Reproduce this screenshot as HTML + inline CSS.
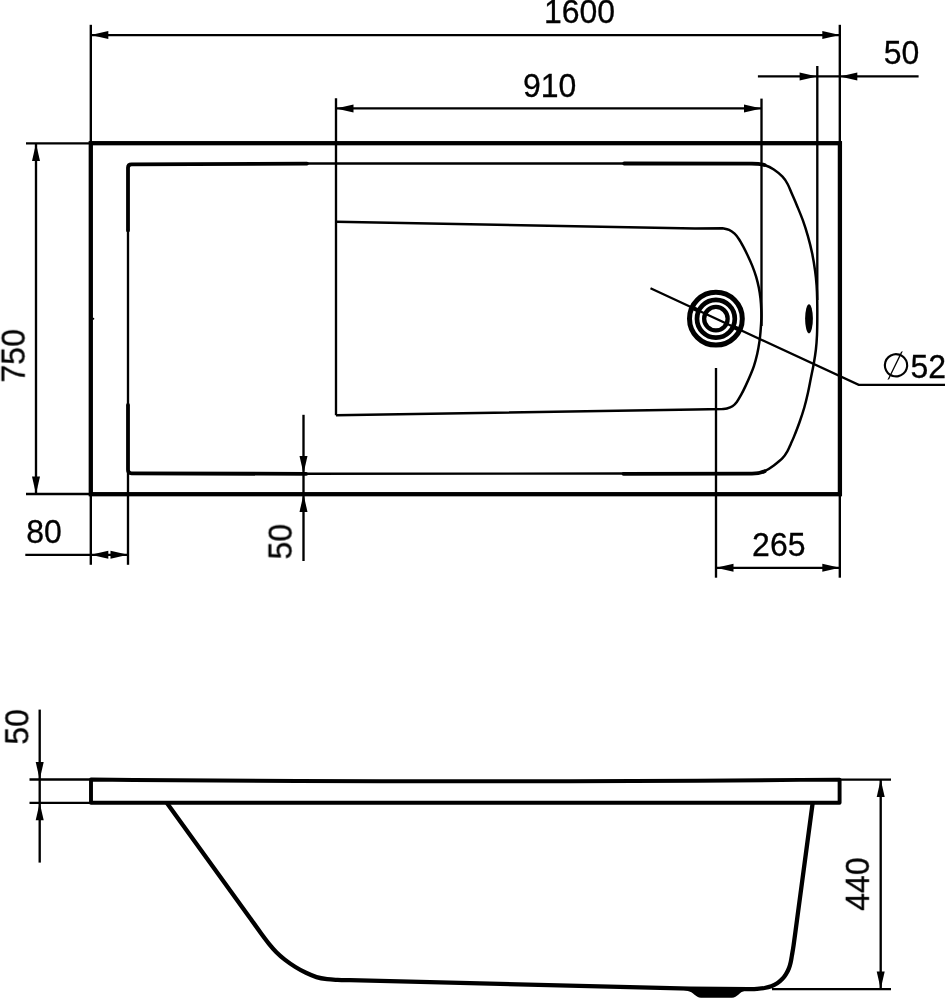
<!DOCTYPE html>
<html lang="en">
<head>
<meta charset="utf-8">
<title>Bathtub 1600 x 750 technical drawing</title>
<style>
html,body{margin:0;padding:0;background:#fff;}
body{width:947px;height:1000px;overflow:hidden;}
svg{display:block;}
</style>
</head>
<body>
<svg width="947" height="1000" viewBox="0 0 947 1000">
<rect width="947" height="1000" fill="#fff"/>
<g fill="none" stroke="#000" stroke-width="2.35" stroke-linecap="butt">
<line x1="90.80" y1="24.80" x2="90.80" y2="143.00"/>
<line x1="839.80" y1="24.80" x2="839.80" y2="143.00"/>
<line x1="90.80" y1="35.10" x2="839.80" y2="35.10"/>
<line x1="336.00" y1="98.30" x2="336.00" y2="415.20"/>
<line x1="761.50" y1="98.60" x2="761.50" y2="326.00"/>
<line x1="336.00" y1="108.40" x2="761.50" y2="108.40"/>
<line x1="817.30" y1="66.00" x2="817.30" y2="300.00"/>
<line x1="757.90" y1="76.40" x2="918.60" y2="76.40"/>
<line x1="26.00" y1="143.40" x2="90.00" y2="143.40"/>
<line x1="26.00" y1="494.00" x2="90.00" y2="494.00"/>
<line x1="36.00" y1="143.40" x2="36.00" y2="494.00"/>
<line x1="90.80" y1="494.00" x2="90.80" y2="564.80"/>
<line x1="128.00" y1="470.00" x2="128.00" y2="564.80"/>
<line x1="25.30" y1="554.80" x2="128.00" y2="554.80"/>
<line x1="303.50" y1="414.80" x2="303.50" y2="561.00"/>
<line x1="716.00" y1="368.00" x2="716.00" y2="577.70"/>
<line x1="839.80" y1="494.00" x2="839.80" y2="577.70"/>
<line x1="716.00" y1="567.80" x2="839.80" y2="567.80"/>
<line x1="39.70" y1="709.60" x2="39.70" y2="862.60"/>
<line x1="29.50" y1="779.50" x2="90.00" y2="779.50"/>
<line x1="29.50" y1="802.80" x2="90.00" y2="802.80"/>
<line x1="880.70" y1="779.60" x2="880.70" y2="989.10"/>
<line x1="840.00" y1="779.60" x2="891.00" y2="779.60"/>
<line x1="772.00" y1="989.10" x2="891.00" y2="989.10"/>
<line x1="128.00" y1="229.00" x2="128.00" y2="406.00"/>
<line x1="305.00" y1="473.70" x2="625.00" y2="473.50"/>
<line x1="306.00" y1="163.50" x2="625.00" y2="163.50"/>
<path stroke-width="2.5" d="M 748.00,473.60 C 749.50,473.53 754.15,473.65 757.00,473.20 C 759.85,472.75 762.30,472.20 765.10,470.90 C 767.90,469.60 770.90,467.52 773.80,465.40 C 776.70,463.28 780.20,460.62 782.50,458.20 C 784.80,455.78 786.20,453.32 787.60,450.90 C 789.00,448.48 789.82,446.12 790.90,443.70 C 791.98,441.28 792.65,440.02 794.10,436.40 C 795.55,432.78 797.90,426.82 799.60,422.00 C 801.30,417.18 802.92,412.33 804.30,407.50 C 805.68,402.67 806.82,397.83 807.90,393.00 C 808.98,388.17 809.83,383.33 810.80,378.50 C 811.77,373.67 812.85,368.83 813.70,364.00 C 814.55,359.17 815.35,354.33 815.90,349.50 C 816.45,344.67 816.77,340.17 817.00,335.00 C 817.23,329.83 817.27,324.33 817.30,318.50 C 817.33,312.67 817.32,305.52 817.20,300.00 C 817.08,294.48 816.95,290.25 816.60,285.40 C 816.25,280.55 815.83,276.20 815.10,270.90 C 814.37,265.60 813.40,259.38 812.20,253.60 C 811.00,247.82 809.47,241.77 807.90,236.20 C 806.33,230.63 804.62,225.28 802.80,220.20 C 800.98,215.12 798.80,210.05 797.00,205.70 C 795.20,201.35 793.57,197.72 792.00,194.10 C 790.43,190.48 789.18,186.90 787.60,184.00 C 786.02,181.10 784.80,179.12 782.50,176.70 C 780.20,174.28 776.70,171.42 773.80,169.50 C 770.90,167.58 767.90,166.13 765.10,165.20 C 762.30,164.27 759.85,164.15 757.00,163.90 C 754.15,163.65 749.50,163.73 748.00,163.70"/>
<path stroke-width="2.5" d="M 336,221.7 L 695,228.6 L 722.5,228.2 C 723.60,228.47 727.08,228.93 729.10,229.85 C 731.12,230.77 732.95,232.14 734.60,233.70 C 736.25,235.26 737.53,237.00 739.00,239.20 C 740.47,241.40 741.93,244.15 743.40,246.90 C 744.87,249.65 746.33,252.58 747.80,255.70 C 749.27,258.82 750.82,262.12 752.20,265.60 C 753.58,269.08 755.00,272.93 756.10,276.60 C 757.20,280.27 758.07,283.93 758.80,287.60 C 759.53,291.27 760.08,294.87 760.50,298.60 C 760.92,302.33 761.15,306.77 761.30,310.00 C 761.45,313.23 761.53,314.33 761.40,318.00 C 761.27,321.67 760.83,328.02 760.50,332.00 C 760.17,335.98 759.95,338.23 759.40,341.90 C 758.85,345.57 758.12,349.97 757.20,354.00 C 756.28,358.03 755.10,362.43 753.90,366.10 C 752.70,369.77 751.38,372.70 750.00,376.00 C 748.62,379.30 747.07,382.78 745.60,385.90 C 744.13,389.02 742.67,392.03 741.20,394.70 C 739.73,397.37 738.27,399.97 736.80,401.90 C 735.33,403.83 734.05,405.20 732.40,406.30 C 730.75,407.40 728.55,408.05 726.90,408.50 C 725.25,408.95 723.23,408.92 722.50,409.00 L 695,409.5 L 336,415.2"/>
</g>
<g fill="none" stroke="#000" stroke-width="3.8" stroke-linejoin="miter" stroke-linecap="round">
<rect x="90.8" y="143.2" width="749.1" height="351" stroke-width="4.3"/>
<path d="M 307,163.6 L 131.5,164.3 Q 128,164.3 128,167.8 L 128,230.5"/>
<path d="M 128,405 L 128,469.8 Q 128,473.3 131.5,473.3 L 306,473.9"/>
<path d="M 623.5,473.8 L 752,473.6 Q 759.5,473.5 764.6,471.2"/>
<path d="M 624.2,163.5 L 752,163.7 Q 759.5,163.8 764.6,165.0"/>
</g>
<g fill="none" stroke="#000">
<circle cx="715.9" cy="318.7" r="26.4" stroke-width="5"/>
<circle cx="715.9" cy="318.7" r="18.9" stroke-width="4.7"/>
<circle cx="715.9" cy="318.7" r="11.75" stroke-width="4.3"/>
<path d="M 690.5,306.9 L 699.6,311.1 M 732.2,326.3 L 741.3,330.5" stroke-width="4.2"/>
<path d="M 650.5,288.3 L 858.7,384.9 L 945,384.9" stroke-width="2.3"/>
</g>
<ellipse cx="809" cy="318.8" rx="3.9" ry="14.6" fill="#000"/>
<circle cx="93.3" cy="318.8" r="1" fill="#000"/>
<g fill="#000" stroke="none">
<polygon points="90.80,35.10 108.30,31.10 108.30,39.10"/>
<polygon points="839.80,35.10 822.30,31.10 822.30,39.10"/>
<polygon points="336.00,108.40 353.50,104.40 353.50,112.40"/>
<polygon points="761.50,108.40 744.00,104.40 744.00,112.40"/>
<polygon points="817.10,76.40 799.60,72.40 799.60,80.40"/>
<polygon points="839.80,76.40 857.30,72.40 857.30,80.40"/>
<polygon points="36.00,143.40 32.00,160.90 40.00,160.90"/>
<polygon points="36.00,494.00 32.00,476.50 40.00,476.50"/>
<polygon points="90.80,554.80 108.30,550.80 108.30,558.80"/>
<polygon points="128.00,554.80 110.50,550.80 110.50,558.80"/>
<polygon points="303.50,473.50 299.50,456.00 307.50,456.00"/>
<polygon points="303.50,494.40 299.50,511.90 307.50,511.90"/>
<polygon points="716.00,567.80 733.50,563.80 733.50,571.80"/>
<polygon points="839.80,567.80 822.30,563.80 822.30,571.80"/>
<polygon points="39.70,779.50 35.70,762.00 43.70,762.00"/>
<polygon points="39.70,802.80 35.70,820.30 43.70,820.30"/>
<polygon points="880.70,779.60 876.70,797.10 884.70,797.10"/>
<polygon points="880.70,989.10 876.70,971.60 884.70,971.60"/>
</g>
<g fill="none" stroke="#000" stroke-width="3.9" stroke-linejoin="round">
<path d="M 91,802.8 L 91,779.5 Q 300,781.5 465,781.2 Q 640,781.3 839.6,779.6 L 839.6,802.8 Z"/>
</g>
<g fill="none" stroke="#000" stroke-width="4.3" stroke-linejoin="round">
<path d="M 166.90,803.00 L 250,917.9 C 251.77,920.37 257.43,928.38 260.60,932.70 C 263.77,937.02 266.37,940.55 269.00,943.80 C 271.63,947.05 273.77,949.57 276.40,952.20 C 279.03,954.83 281.63,957.13 284.80,959.60 C 287.97,962.07 291.87,964.80 295.40,967.00 C 298.93,969.20 302.48,971.12 306.00,972.80 C 309.52,974.48 312.98,976.03 316.50,977.10 C 320.02,978.17 323.58,978.73 327.10,979.20 C 330.62,979.67 333.78,979.73 337.60,979.90 C 341.42,980.07 347.93,980.15 350.00,980.20 L 660,987.8 L 690,988.7 L 748.4,989.2 C 749.82,989.13 754.22,989.00 756.90,988.80 C 759.58,988.60 762.10,988.42 764.50,988.00 C 766.90,987.58 769.18,987.08 771.30,986.30 C 773.42,985.52 775.38,984.50 777.20,983.30 C 779.02,982.10 780.73,980.63 782.20,979.10 C 783.67,977.57 784.87,975.93 786.00,974.10 C 787.13,972.27 788.22,970.08 789.00,968.10 C 789.78,966.12 790.22,964.30 790.70,962.20 C 791.18,960.10 791.42,958.32 791.90,955.50 C 792.38,952.68 792.75,951.22 793.60,945.30 C 794.45,939.38 796.43,924.22 797.00,920.00 L 812.6,803.4"/>
</g>
<path d="M 682,989.5 L 687,990.8 C 694,992 695.5,997.8 701,997.8 L 732,997.8 C 737.5,997.8 739,992 745,990.8 L 750,989.5 Z" fill="#000"/>
<g opacity="0.999" fill="#000" stroke="#000" stroke-width="0.3" font-family="'Liberation Sans', sans-serif" font-size="32">
<text text-anchor="middle" transform="translate(579.50 23.20) scale(1 1.045)">1600</text>
<text text-anchor="middle" transform="translate(549.70 97.40) scale(1 1.045)">910</text>
<text text-anchor="middle" transform="translate(901.60 64.20) scale(1 1.045)">50</text>
<text text-anchor="middle" transform="translate(25.00 355.80) rotate(-90) scale(1 1.045)">750</text>
<text text-anchor="middle" transform="translate(44.10 543.20) scale(1 1.045)">80</text>
<text text-anchor="middle" transform="translate(292.00 541.70) rotate(-90) scale(1 1.045)">50</text>
<text text-anchor="middle" transform="translate(778.80 556.40) scale(1 1.045)">265</text>
<text text-anchor="middle" transform="translate(928.20 377.70) scale(1 1.045)">52</text>
<text x="881.2" y="377.2" font-family="'DejaVu Sans', sans-serif" font-size="34" stroke="none" transform="rotate(-13 896.1 365.5)">∅</text>
<text text-anchor="middle" transform="translate(28.70 726.90) rotate(-90) scale(1 1.045)">50</text>
<text text-anchor="middle" transform="translate(869.20 884.10) rotate(-90) scale(1 1.045)">440</text>
</g>
</svg>
</body>
</html>
